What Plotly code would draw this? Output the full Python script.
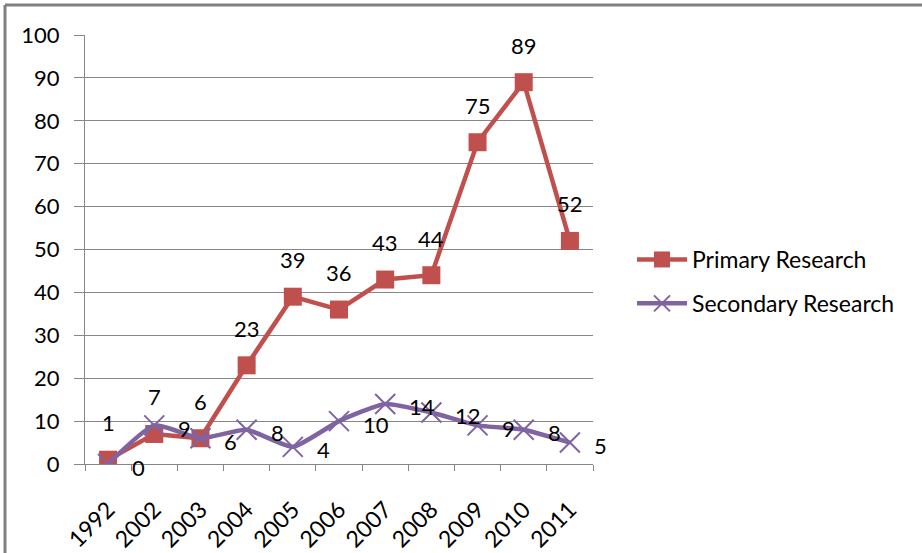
import plotly.graph_objects as go

years = ["1992", "2002", "2003", "2004", "2005", "2006", "2007", "2008", "2009", "2010", "2011"]
primary = [1, 7, 6, 23, 39, 36, 43, 44, 75, 89, 52]
secondary = [0, 9, 6, 8, 4, 10, 14, 12, 9, 8, 5]
y_ticks = [0, 10, 20, 30, 40, 50, 60, 70, 80, 90, 100]

RED = "#C0504D"
PURPLE = "#8064A2"
FONT = "Lato"

W, H = 922, 553
PW, PH = 508, 429
L, T = 85, 35
R = W - L - PW
B = H - T - PH

xpos = list(range(len(years)))
bounds = [i - 0.5 for i in range(len(years) + 1)]

fig = go.Figure()
fig.add_trace(go.Scatter(
    x=xpos, y=primary, name="Primary Research", mode="lines+markers",
    line=dict(color=RED, width=4.5),
    marker=dict(symbol="square", size=18, color=RED),
    legendgroup="a",
))
fig.add_trace(go.Scatter(
    x=xpos, y=secondary, name="Secondary Research", mode="lines+markers",
    line=dict(color=PURPLE, width=4.5, shape="spline", smoothing=0.5),
    marker=dict(symbol="x-thin", size=20, color=PURPLE, line=dict(color=PURPLE, width=2)),
    legendgroup="b",
))

ann = []
for x, v in zip(xpos, primary):
    ann.append(dict(x=x, y=v, text=str(v), showarrow=False, xanchor="center", yanchor="middle",
                    yshift=37, font=dict(family=FONT, size=22, color="black")))
for x, v in zip(xpos, secondary):
    ann.append(dict(x=x, y=v, text=str(v), showarrow=False, xanchor="left", yanchor="middle",
                    xshift=22, yshift=-3, font=dict(family=FONT, size=22, color="black")))


def px_x(px):
    return (px - L) / PW


def px_y(py):
    return (T + PH - py) / PH


bx = px_x(5)
by = px_y(5)

fig.update_layout(
    width=W, height=H,
    margin=dict(l=L, r=R, t=T, b=B, autoexpand=False),
    paper_bgcolor="white", plot_bgcolor="white",
    font=dict(family=FONT, size=22, color="black"),
    showlegend=True,
    legend=dict(x=px_x(632), y=px_y(238), xanchor="left", yanchor="top",
                font=dict(family=FONT, size=23, color="black"),
                tracegroupgap=11, itemwidth=50, bgcolor="rgba(0,0,0,0)"),
    annotations=ann,
    shapes=[
        dict(type="line", xref="paper", yref="paper", x0=bx, x1=2, y0=by, y1=by,
             line=dict(color="#808080", width=3)),
        dict(type="line", xref="paper", yref="paper", x0=bx, x1=bx, y0=by, y1=-2,
             line=dict(color="#808080", width=3)),
    ],
)
fig.update_xaxes(
    range=[-0.5, len(years) - 0.5], tickmode="array", tickvals=xpos, ticktext=years,
    tickangle=-45, showgrid=False, zeroline=False,
    showline=True, linecolor="#868686", linewidth=1,
    ticks="", tickfont=dict(family=FONT, size=23, color="black"),
    ticklabelstandoff=22,
    minor=dict(tickmode="array", tickvals=bounds, ticks="outside", ticklen=6,
               tickcolor="#868686", showgrid=False),
)
fig.update_yaxes(
    range=[0, 100], tickvals=y_ticks, showgrid=True, gridcolor="#868686", gridwidth=1,
    showline=True, linecolor="#868686", linewidth=1,
    ticks="outside", ticklen=10, tickcolor="#868686",
    tickfont=dict(family=FONT, size=22, color="black"),
    ticklabelstandoff=10, zeroline=False,
)

fig.write_html("out.html", config={"displayModeBar": False},
               post_script="document.body.style.margin='0';")
